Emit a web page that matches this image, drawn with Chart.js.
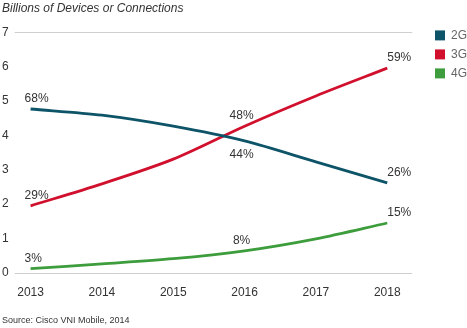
<!DOCTYPE html>
<html>
<head>
<meta charset="utf-8">
<script src="https://cdn.jsdelivr.net/npm/chart.js@4/dist/chart.umd.min.js"></script>
<style>
  html, body { margin: 0; padding: 0; background: #fff; }
  #wrap { width: 467px; height: 328px; }
</style>
</head>
<body>
<div id="wrap"><canvas id="c" width="467" height="328"></canvas></div>
<script>
// ---------- data ----------
const YEARS = [2013, 2014, 2015, 2016, 2017, 2018];
const G2 = [4.77, 4.59, 4.27, 3.84, 3.23, 2.62];
const G3 = [1.95, 2.59, 3.31, 4.27, 5.15, 5.96];
const G4 = [0.12, 0.26, 0.41, 0.64, 0.99, 1.45];
const Y_TICKS = [0, 1, 2, 3, 4, 5, 6, 7];
const RULES = [0, 7];            // horizontal rules drawn at these values

// share labels: [dataset, year index, text, below?]
const SHARES = [
  [0, 0, '68%'], [0, 3, '44%', true], [0, 5, '26%'],
  [1, 0, '29%'], [1, 3, '48%'], [1, 5, '59%'],
  [2, 0, '3%'], [2, 3, '8%'], [2, 5, '15%'],
];

const C2 = '#0e5468', C3 = '#d0102d', C4 = '#3d9d3c';
const TXT = '#333';
const FONT = '"Liberation Sans", Arial, sans-serif';
const X_MIN = 2012.777, X_MAX = 2018.571, RULE_END = 2018.35;

// ---------- rules at 0 and 7 (shorter than the plot area, legend sits right) ----------
const rules = {
  id: 'rules',
  beforeDatasetsDraw(chart) {
    const { ctx, scales: { x, y } } = chart;
    ctx.save();
    ctx.strokeStyle = '#cfcfcf';
    ctx.lineWidth = 1;
    RULES.forEach((v) => {
      const py = Math.round(y.getPixelForValue(v)) + 0.5;
      ctx.beginPath();
      ctx.moveTo(x.getPixelForValue(X_MIN), py);
      ctx.lineTo(x.getPixelForValue(RULE_END), py);
      ctx.stroke();
    });
    ctx.restore();
  }
};

// ---------- share label plugin ----------
const shareLabels = {
  id: 'shareLabels',
  afterDatasetsDraw(chart) {
    const ctx = chart.ctx;
    ctx.save();
    ctx.font = '12px ' + FONT;
    ctx.fillStyle = TXT;
    ctx.textBaseline = 'middle';
    SHARES.forEach(([ds, i, txt, below]) => {
      const p = chart.getDatasetMeta(ds).data[i];
      let x = p.x;
      if (i === 0) { ctx.textAlign = 'left'; x -= 6; }
      else if (i === YEARS.length - 1) { ctx.textAlign = 'left'; }
      else { ctx.textAlign = 'center'; x -= 3; }
      ctx.fillText(txt, x, below ? p.y + 14 : p.y - 10);
    });
    ctx.restore();
  }
};

function lineDS(label, data, color) {
  return { label, data: data.map((v, i) => ({ x: YEARS[i], y: v })), borderColor: color, backgroundColor: color,
    borderWidth: 2.8, pointRadius: 0, tension: 0.3, fill: false };
}

new Chart(document.getElementById('c'), {
  type: 'line',
  data: { datasets: [lineDS('2G', G2, C2), lineDS('3G', G3, C3), lineDS('4G', G4, C4)] },
  plugins: [rules, shareLabels],
  options: {
    responsive: false, animation: false,
    layout: { padding: { left: 2, right: -10, top: 0, bottom: 0 } },
    plugins: {
      tooltip: { enabled: false },
      title: { display: true, text: 'Billions of Devices or Connections', align: 'start', color: TXT,
        font: { family: FONT, size: 12, style: 'italic', weight: 'normal' }, padding: { top: 1, bottom: 17 } },
      subtitle: { display: true, position: 'bottom', text: 'Source: Cisco VNI Mobile, 2014', align: 'start', color: TXT,
        font: { family: FONT, size: 9 }, padding: { top: 2, bottom: 2 } },
      legend: { position: 'right', align: 'start',
        title: { display: true, text: ' ', padding: 4, font: { family: FONT, size: 12 } },
        labels: { boxWidth: 10, boxHeight: 10, padding: 7, color: TXT, font: { family: FONT, size: 12 },
          generateLabels: (chart) => chart.data.datasets.map((d, i) => ({ text: d.label, fillStyle: d.borderColor,
            strokeStyle: d.borderColor, lineWidth: 0, datasetIndex: i })) } },
    },
    scales: {
      x: { type: 'linear', min: X_MIN, max: X_MAX,
        afterBuildTicks: (s) => { s.ticks = YEARS.map((v) => ({ value: v })); },
        grid: { display: false, drawTicks: false }, border: { display: false },
        ticks: { color: TXT, font: { family: FONT, size: 12 }, padding: 13, maxRotation: 0, callback: (v) => String(v) } },
      y: { min: 0, max: 7,
        afterBuildTicks: (s) => { s.ticks = Y_TICKS.map((v) => ({ value: v })); },
        border: { display: false }, grid: { display: false, drawTicks: false },
        ticks: { color: TXT, font: { family: FONT, size: 12 }, padding: 3, crossAlign: 'far' } },
    },
  },
});
</script>
</body>
</html>
